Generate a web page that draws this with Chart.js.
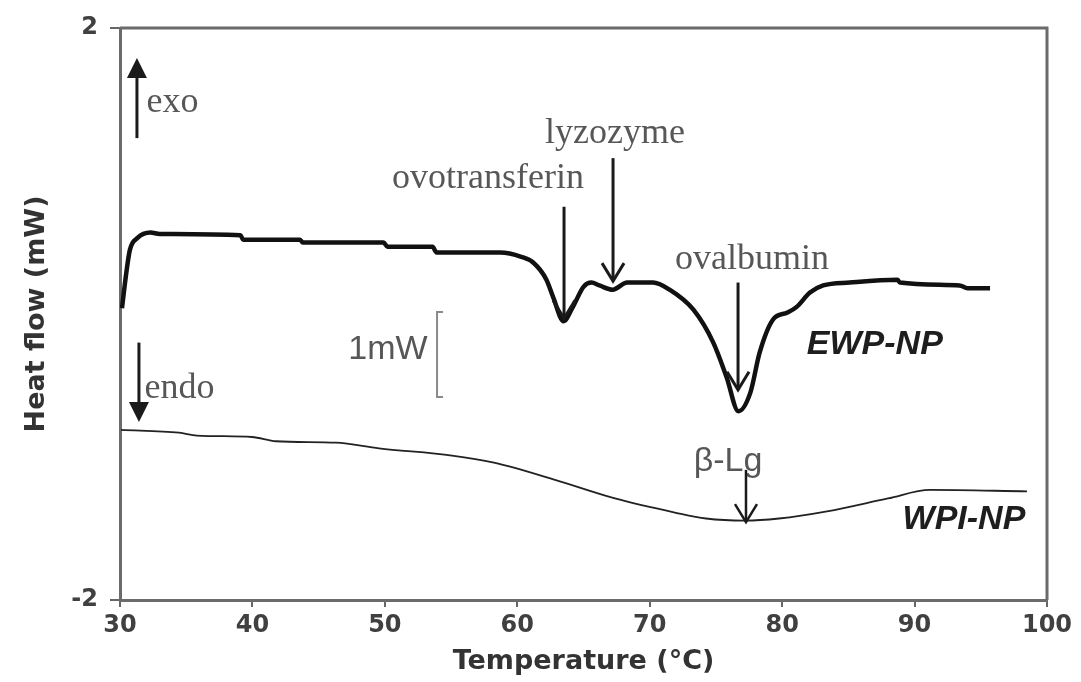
<!DOCTYPE html>
<html lang="en">
<head>
<meta charset="UTF-8">
<title>DSC thermograms EWP-NP / WPI-NP</title>
<script src="https://cdn.jsdelivr.net/npm/chart.js"></script>
<style>
  body { margin: 0; background: #fff; }
</style>
</head>
<body>
<canvas id="dsc" width="1081" height="682"></canvas>
<script>
// egg white protein nanoparticles (thick trace)
const ewpTemp = [30.15, 30.45, 30.75, 31.3, 32.3, 33.0, 39.1, 39.3, 43.6, 43.8, 49.9, 50.2, 53.6, 53.9, 58.7, 60.3, 61.2, 62.2, 62.7, 63.5, 64.2, 65.0, 65.6, 66.2, 67.2, 68.3, 70.25, 71.5, 73.3, 74.8, 75.8, 76.7, 77.6, 78.3, 79.3, 80.4, 81.1, 82.1, 83.1, 85.1, 88.7, 88.9, 93.4, 94.0, 95.7];
const ewpFlow = [0.04, 0.27, 0.45, 0.53, 0.57, 0.56, 0.55, 0.52, 0.52, 0.50, 0.50, 0.47, 0.47, 0.43, 0.43, 0.40, 0.36, 0.24, 0.12, -0.05, 0.05, 0.19, 0.22, 0.20, 0.17, 0.22, 0.22, 0.17, 0.03, -0.20, -0.44, -0.68, -0.55, -0.27, -0.04, 0.01, 0.05, 0.15, 0.20, 0.22, 0.24, 0.22, 0.20, 0.18, 0.18];

// whey protein isolate nanoparticles (thin trace)
const wpiTemp = [30.08, 34.46, 35.81, 39.97, 41.78, 46.31, 49.56, 55.07, 58.24, 62.85, 67.38, 71.98, 74.25, 77.19, 79.76, 83.39, 87.99, 91.16, 98.49];
const wpiFlow = [-0.81, -0.83, -0.85, -0.86, -0.89, -0.90, -0.94, -0.99, -1.04, -1.16, -1.29, -1.39, -1.43, -1.445, -1.43, -1.38, -1.29, -1.23, -1.24];

const tempTicks = [30, 40, 50, 60, 70, 80, 90, 100];
const flowTicks = [-2, 2];

// peak labels with arrows: [text, textT, textFlow, arrowT, fromFlow, toFlow]
const peakNotes = [
  ['ovotransferin', 57.79, 0.95, 63.53, 0.75, -0.03],
  ['lyzozyme', 67.38, 1.26, 67.23, 1.09, 0.23],
  ['ovalbumin', 77.72, 0.38, 76.67, 0.22, -0.53]
];

const toPoints = (xs, ys) => xs.map((x, i) => ({ x: x, y: ys[i] }));

const GREY_TEXT = '#575757';

function arrow(ctx, x, y0, y1, filled, headLen, headW) {
  const dir = Math.sign(y1 - y0);
  ctx.beginPath();
  ctx.moveTo(x, y0);
  ctx.lineTo(x, filled ? y1 - dir * headLen * 0.6 : y1);
  ctx.stroke();
  ctx.beginPath();
  ctx.moveTo(x - headW / 2, y1 - dir * headLen);
  ctx.lineTo(x, y1);
  ctx.lineTo(x + headW / 2, y1 - dir * headLen);
  if (filled) {
    ctx.closePath();
    ctx.fill();
  } else {
    ctx.stroke();
  }
}

const annotations = {
  id: 'annotations',
  afterDraw(chart) {
    const { ctx, chartArea: a, scales: { x, y } } = chart;
    ctx.save();

    // frame on top and right
    ctx.strokeStyle = '#6b6b6b';
    ctx.lineWidth = 3;
    ctx.beginPath();
    ctx.moveTo(a.left, a.top);
    ctx.lineTo(a.right, a.top);
    ctx.lineTo(a.right, a.bottom);
    ctx.stroke();

    ctx.strokeStyle = '#1a1a1a';
    ctx.fillStyle = '#1a1a1a';
    ctx.lineWidth = 3;

    // exo / endo direction arrows
    arrow(ctx, x.getPixelForValue(31.28), y.getPixelForValue(1.23), y.getPixelForValue(1.79), true, 20, 20);
    arrow(ctx, x.getPixelForValue(31.43), y.getPixelForValue(-0.20), y.getPixelForValue(-0.755), true, 20, 20);

    ctx.font = '36px "Liberation Serif", serif';
    ctx.fillStyle = GREY_TEXT;
    ctx.textBaseline = 'middle';
    ctx.textAlign = 'left';
    ctx.fillText('exo', x.getPixelForValue(32.0), y.getPixelForValue(1.48));
    ctx.fillText('endo', x.getPixelForValue(31.85), y.getPixelForValue(-0.52));

    // peak labels
    ctx.textAlign = 'center';
    peakNotes.forEach(([txt, tx, ty, ax, from, to]) => {
      ctx.fillStyle = GREY_TEXT;
      ctx.fillText(txt, x.getPixelForValue(tx), y.getPixelForValue(ty));
      ctx.strokeStyle = '#1a1a1a';
      arrow(ctx, x.getPixelForValue(ax), y.getPixelForValue(from), y.getPixelForValue(to), false, 18, 22);
    });

    // beta-lactoglobulin
    ctx.font = '34px "Liberation Sans", sans-serif';
    ctx.fillStyle = GREY_TEXT;
    ctx.fillText('β-Lg', x.getPixelForValue(75.91), y.getPixelForValue(-1.035));
    ctx.lineWidth = 2.5;
    arrow(ctx, x.getPixelForValue(77.27), y.getPixelForValue(-1.09), y.getPixelForValue(-1.455), false, 18, 22);

    // scale bar
    ctx.fillText('1mW', x.getPixelForValue(50.24), y.getPixelForValue(-0.25));
    const bx = x.getPixelForValue(53.94);
    const bt = y.getPixelForValue(0.014);
    const bb = y.getPixelForValue(-0.58);
    ctx.strokeStyle = '#8a8a8a';
    ctx.lineWidth = 2;
    ctx.beginPath();
    ctx.moveTo(bx + 6, bt);
    ctx.lineTo(bx, bt);
    ctx.lineTo(bx, bb);
    ctx.lineTo(bx + 6, bb);
    ctx.stroke();

    // trace names
    ctx.font = 'italic bold 34px "Liberation Sans", sans-serif';
    ctx.fillStyle = '#1e1e1e';
    ctx.fillText('EWP-NP', x.getPixelForValue(87.0), y.getPixelForValue(-0.217));
    ctx.fillText('WPI-NP', x.getPixelForValue(93.73), y.getPixelForValue(-1.44));

    ctx.restore();
  }
};

const axisFont = { family: '"DejaVu Sans", sans-serif', size: 24, weight: 'bold' };

new Chart(document.getElementById('dsc'), {
  type: 'line',
  data: {
    datasets: [
      {
        label: 'EWP-NP',
        data: toPoints(ewpTemp, ewpFlow),
        borderColor: '#111',
        borderWidth: 4.5,
        pointRadius: 0,
        cubicInterpolationMode: 'monotone'
      },
      {
        label: 'WPI-NP',
        data: toPoints(wpiTemp, wpiFlow),
        borderColor: '#222',
        borderWidth: 1.8,
        pointRadius: 0,
        cubicInterpolationMode: 'monotone'
      }
    ]
  },
  options: {
    responsive: false,
    animation: false,
    devicePixelRatio: 1,
    layout: { padding: { top: 28, right: 34, left: 0, bottom: 0 } },
    plugins: { legend: { display: false }, tooltip: { enabled: false } },
    scales: {
      x: {
        type: 'linear',
        min: 30,
        max: 100,
        afterBuildTicks: s => { s.ticks = tempTicks.map(v => ({ value: v })); },
        afterFit: s => { s.height = 82; },
        grid: { drawOnChartArea: false, tickLength: 7, color: '#666', lineWidth: 2 },
        border: { color: '#6b6b6b', width: 3 },
        ticks: { color: '#404040', font: axisFont, padding: 4, maxRotation: 0 },
        title: {
          display: true,
          text: 'Temperature (°C)',
          color: '#333',
          font: { family: '"DejaVu Sans", sans-serif', size: 27, weight: 'bold' },
          padding: { top: 4, bottom: 4 }
        }
      },
      y: {
        min: -2,
        max: 2,
        afterBuildTicks: s => { s.ticks = flowTicks.map(v => ({ value: v })); },
        afterFit: s => { s.width = 120; },
        grid: { drawOnChartArea: false, tickLength: 10, color: '#666', lineWidth: 2 },
        border: { color: '#6b6b6b', width: 3 },
        ticks: { color: '#404040', font: axisFont, padding: 12 },
        title: {
          display: true,
          text: 'Heat flow (mW)',
          color: '#333',
          font: { family: '"DejaVu Sans", sans-serif', size: 27, weight: 'bold' },
          padding: { top: 21, bottom: 0 }
        }
      }
    }
  },
  plugins: [annotations]
});
</script>
</body>
</html>
